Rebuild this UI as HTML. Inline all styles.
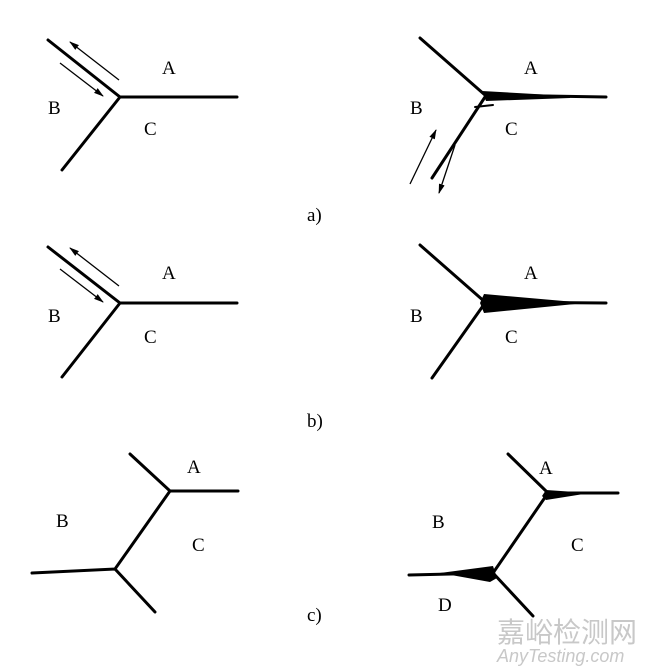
<!DOCTYPE html>
<html><head><meta charset="utf-8"><style>
body{margin:0;background:#fff;}
svg{display:block}
text{font-family:"Liberation Serif",serif;font-size:19px;fill:#000}
</style></head><body>
<svg width="646" height="672" viewBox="0 0 646 672" xmlns="http://www.w3.org/2000/svg">
<defs>
<marker id="ah" markerWidth="10" markerHeight="6" refX="9" refY="3" orient="auto" markerUnits="userSpaceOnUse">
<path d="M0,0 L10,3 L0,6 z" fill="#000"/>
</marker>
</defs>
<g stroke="#000" stroke-width="3" fill="none" stroke-linecap="round">
<path d="M48,40 L120,97 L237,97 M120,97 L62,170"/>
<path d="M420,38 L485,95 L606,97 M485,97 L432,178"/>
<path d="M475,107 L493,105" stroke-width="2"/>
<path d="M48,247 L120,303 L237,303 M120,303 L62,377"/>
<path d="M420,245 L485,302 L606,303 M485,303 L432,378"/>
<path d="M130,454 L170,491 L238,491 M170,491 L115,569 M32,573 L115,569 L155,612"/>
<path d="M508,454 L548,493 L618,493 M548,493 L493,573 M409,575 L493,573 L533,616"/>
</g>
<g stroke="#000" stroke-width="1.3" fill="none">
<line x1="119" y1="80" x2="70" y2="42" marker-end="url(#ah)"/>
<line x1="60" y1="63" x2="103" y2="96" marker-end="url(#ah)"/>
<line x1="410" y1="184" x2="436" y2="130" marker-end="url(#ah)"/>
<line x1="455" y1="145" x2="439" y2="193" marker-end="url(#ah)"/>
<line x1="119" y1="286" x2="70" y2="248" marker-end="url(#ah)"/>
<line x1="60" y1="269" x2="103" y2="302" marker-end="url(#ah)"/>
</g>
<g fill="#000">
<path d="M482,91 L570,96 L570,98 L486,101 z"/>
<path d="M484,294 L575,302 L575,304 L484,313 L480,303 z"/>
<path d="M546,490 L590,493 L546,500 L542,496 z"/>
<path d="M440,573 L493,566 L497,578 L490,582 z"/>
</g>
<text x="162" y="74">A</text><text x="48" y="114">B</text><text x="144" y="135">C</text>
<text x="524" y="74">A</text><text x="410" y="114">B</text><text x="505" y="135">C</text>
<text x="307" y="221">a)</text>
<text x="162" y="279">A</text><text x="48" y="322">B</text><text x="144" y="343">C</text>
<text x="524" y="279">A</text><text x="410" y="322">B</text><text x="505" y="343">C</text>
<text x="307" y="427">b)</text>
<text x="187" y="473">A</text><text x="56" y="527">B</text><text x="192" y="551">C</text>
<text x="539" y="474">A</text><text x="432" y="528">B</text><text x="571" y="551">C</text><text x="438" y="611">D</text>
<text x="307" y="621">c)</text>
<text x="497" y="642" style="font-family:'Noto Sans CJK SC',sans-serif;font-size:28px;fill:#c8c8c8">嘉峪检测网</text>
<text x="497" y="662" style="font-family:'Liberation Sans',sans-serif;font-size:18px;font-style:italic;fill:#c8c8c8">AnyTesting.com</text>
</svg>
</body></html>
